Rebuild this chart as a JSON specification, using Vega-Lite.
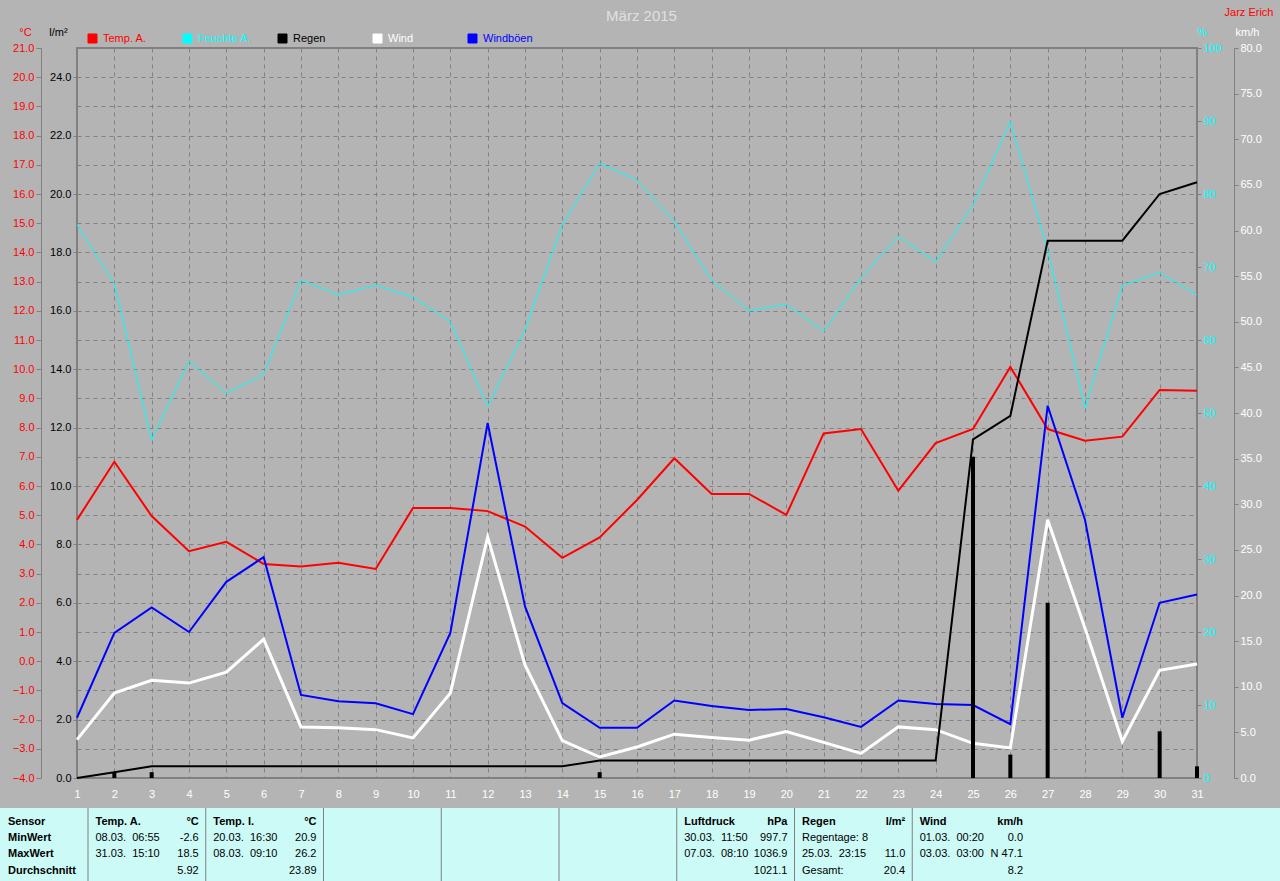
{
  "$schema": "https://vega.github.io/schema/vega-lite/v6.json",
  "autosize": {"type": "none"},
  "padding": {"left": 77, "top": 48, "right": 83, "bottom": 103},
  "width": 1120,
  "height": 730,
  "background": "#b4b4b4",
  "view": {"stroke": "#808080", "strokeWidth": 2},
  "config": {
    "font": "Liberation Sans",
    "axis": {"labelFont": "Liberation Sans", "labelFontSize": 11, "titleFont": "Liberation Sans", "titleFontSize": 11, "titleFontWeight": "normal", "titleAngle": 0, "titleBaseline": "middle", "titleAlign": "center", "tickColor": "#808080", "domainColor": "#808080", "gridColor": "#808080", "gridDash": [4, 4], "gridOpacity": 1, "labelFlush": false, "labelOverlap": false},
    "legend": {"labelFont": "Liberation Sans", "labelFontSize": 11},
    "text": {"font": "Liberation Sans", "fontSize": 11}
  },
  "datasets": {
    "days": [
      {"d":1,"t":4.84,"h":75.8,"w":4.2,"g":6.6,"rc":0,"r":0},
      {"d":2,"t":6.83,"h":67.7,"w":9.3,"g":15.9,"rc":0.2,"r":0.2},
      {"d":3,"t":4.97,"h":46.3,"w":10.7,"g":18.7,"rc":0.4,"r":0.2},
      {"d":4,"t":3.77,"h":57.1,"w":10.4,"g":16.0,"rc":0.4,"r":0},
      {"d":5,"t":4.09,"h":52.7,"w":11.6,"g":21.5,"rc":0.4,"r":0},
      {"d":6,"t":3.33,"h":55.3,"w":15.2,"g":24.2,"rc":0.4,"r":0},
      {"d":7,"t":3.24,"h":68.2,"w":5.6,"g":9.1,"rc":0.4,"r":0},
      {"d":8,"t":3.37,"h":66.2,"w":5.5,"g":8.4,"rc":0.4,"r":0},
      {"d":9,"t":3.16,"h":67.5,"w":5.3,"g":8.2,"rc":0.4,"r":0},
      {"d":10,"t":5.25,"h":65.9,"w":4.4,"g":7.0,"rc":0.4,"r":0},
      {"d":11,"t":5.25,"h":62.5,"w":9.3,"g":15.9,"rc":0.4,"r":0},
      {"d":12,"t":5.14,"h":50.9,"w":26.4,"g":38.9,"rc":0.4,"r":0},
      {"d":13,"t":4.61,"h":61.4,"w":12.4,"g":18.8,"rc":0.4,"r":0},
      {"d":14,"t":3.54,"h":75.8,"w":4.1,"g":8.2,"rc":0.4,"r":0},
      {"d":15,"t":4.24,"h":84.2,"w":2.3,"g":5.5,"rc":0.6,"r":0.2},
      {"d":16,"t":5.52,"h":81.9,"w":3.4,"g":5.5,"rc":0.6,"r":0},
      {"d":17,"t":6.95,"h":76.2,"w":4.8,"g":8.5,"rc":0.6,"r":0},
      {"d":18,"t":5.73,"h":68.2,"w":4.45,"g":7.9,"rc":0.6,"r":0},
      {"d":19,"t":5.73,"h":64.0,"w":4.15,"g":7.45,"rc":0.6,"r":0},
      {"d":20,"t":5.01,"h":64.9,"w":5.1,"g":7.56,"rc":0.6,"r":0},
      {"d":21,"t":7.8,"h":61.2,"w":3.9,"g":6.65,"rc":0.6,"r":0},
      {"d":22,"t":7.95,"h":68.5,"w":2.7,"g":5.6,"rc":0.6,"r":0},
      {"d":23,"t":5.84,"h":74.2,"w":5.6,"g":8.5,"rc":0.6,"r":0},
      {"d":24,"t":7.47,"h":70.7,"w":5.3,"g":8.1,"rc":0.6,"r":0},
      {"d":25,"t":7.95,"h":78.5,"w":3.8,"g":8.0,"rc":11.6,"r":11.0},
      {"d":26,"t":10.08,"h":89.9,"w":3.3,"g":5.9,"rc":12.4,"r":0.8},
      {"d":27,"t":7.95,"h":72.3,"w":28.3,"g":40.8,"rc":18.4,"r":6.0},
      {"d":28,"t":7.55,"h":50.7,"w":16.4,"g":28.3,"rc":18.4,"r":0},
      {"d":29,"t":7.69,"h":67.5,"w":4.0,"g":6.6,"rc":18.4,"r":0},
      {"d":30,"t":9.29,"h":69.2,"w":11.8,"g":19.2,"rc":20.0,"r":1.6},
      {"d":31,"t":9.26,"h":66.2,"w":12.5,"g":20.1,"rc":20.4,"r":0.4}
    ],
    "cols": [{"c":1},{"c":2},{"c":3},{"c":4},{"c":5},{"c":6},{"c":7},{"c":8}],
    "cells": [
      {"c":0,"r":0,"s":"L","t":"Sensor"},
      {"c":0,"r":1,"s":"L","t":"MinWert"},
      {"c":0,"r":2,"s":"L","t":"MaxWert"},
      {"c":0,"r":3,"s":"L","t":"Durchschnitt"},
      {"c":1,"r":0,"s":"L","t":"Temp. A."},
      {"c":1,"r":0,"s":"R","t":"°C"},
      {"c":1,"r":1,"s":"L","t":"08.03.\u00a0 06:55"},
      {"c":1,"r":1,"s":"R","t":"-2.6"},
      {"c":1,"r":2,"s":"L","t":"31.03.\u00a0 15:10"},
      {"c":1,"r":2,"s":"R","t":"18.5"},
      {"c":1,"r":3,"s":"R","t":"5.92"},
      {"c":2,"r":0,"s":"L","t":"Temp. I."},
      {"c":2,"r":0,"s":"R","t":"°C"},
      {"c":2,"r":1,"s":"L","t":"20.03.\u00a0 16:30"},
      {"c":2,"r":1,"s":"R","t":"20.9"},
      {"c":2,"r":2,"s":"L","t":"08.03.\u00a0 09:10"},
      {"c":2,"r":2,"s":"R","t":"26.2"},
      {"c":2,"r":3,"s":"R","t":"23.89"},
      {"c":6,"r":0,"s":"L","t":"Luftdruck"},
      {"c":6,"r":0,"s":"R","t":"hPa"},
      {"c":6,"r":1,"s":"L","t":"30.03.\u00a0 11:50"},
      {"c":6,"r":1,"s":"R","t":"997.7"},
      {"c":6,"r":2,"s":"L","t":"07.03.\u00a0 08:10"},
      {"c":6,"r":2,"s":"R","t":"1036.9"},
      {"c":6,"r":3,"s":"R","t":"1021.1"},
      {"c":7,"r":0,"s":"L","t":"Regen"},
      {"c":7,"r":0,"s":"R","t":"l/m²"},
      {"c":7,"r":1,"s":"L","t":"Regentage: 8"},
      {"c":7,"r":2,"s":"L","t":"25.03.\u00a0 23:15"},
      {"c":7,"r":2,"s":"R","t":"11.0"},
      {"c":7,"r":3,"s":"L","t":"Gesamt:"},
      {"c":7,"r":3,"s":"R","t":"20.4"},
      {"c":8,"r":0,"s":"L","t":"Wind"},
      {"c":8,"r":0,"s":"R","t":"km/h"},
      {"c":8,"r":1,"s":"L","t":"01.03.\u00a0 00:20"},
      {"c":8,"r":1,"s":"R","t":"0.0"},
      {"c":8,"r":2,"s":"L","t":"03.03.\u00a0 03:00"},
      {"c":8,"r":2,"s":"R","t":"N 47.1"},
      {"c":8,"r":3,"s":"R","t":"8.2"}
    ]
  },
  "layer": [
    {
      "layer": [
        {
          "data": {"values": [{}]},
          "mark": {"type": "rect", "color": "#ccfaf7"},
          "encoding": {
            "x": {"datum": -1, "type": "quantitative", "scale": {"type": "linear", "domain": [1, 9], "range": [11, 953], "nice": false, "zero": false, "padding": 0}, "axis": {"orient": "top", "title": "März 2015", "titleX": 564, "titleY": -33, "titleColor": "#e0e0e0", "titleFontSize": 15, "labels": false, "ticks": false, "domain": false, "grid": false}},
            "x2": {"datum": 12},
            "y": {"datum": -0.9, "type": "quantitative", "scale": {"type": "linear", "domain": [0, 3], "range": [774.4, 822.5], "nice": false, "zero": false, "padding": 0}, "axis": {"orient": "left", "title": "Jarz Erich", "titleX": 1196, "titleY": -36, "titleAlign": "right", "titleColor": "#ff0000", "labels": false, "ticks": false, "domain": false, "grid": false}},
            "y2": {"datum": 5}
          }
        },
        {
          "data": {"name": "cols"},
          "mark": {"type": "rule", "color": "#808080", "strokeWidth": 1},
          "encoding": {
            "x": {"field": "c", "type": "quantitative"},
            "y": {"datum": -0.9, "type": "quantitative"},
            "y2": {"datum": 5}
          }
        },
        {
          "data": {"name": "cells"},
          "transform": [{"filter": "datum.c == 0"}],
          "mark": {"type": "text", "align": "left", "baseline": "middle", "dx": 37.75, "fontWeight": "bold", "color": "#000000"},
          "encoding": {
            "x": {"field": "c", "type": "quantitative"},
            "y": {"field": "r", "type": "quantitative"},
            "text": {"field": "t"}
          }
        },
        {
          "data": {"name": "cells"},
          "transform": [{"filter": "datum.c > 0 && datum.r == 0 && datum.s == 'L'"}],
          "mark": {"type": "text", "align": "left", "baseline": "middle", "dx": 7.5, "fontWeight": "bold", "color": "#000000"},
          "encoding": {
            "x": {"field": "c", "type": "quantitative"},
            "y": {"field": "r", "type": "quantitative"},
            "text": {"field": "t"}
          }
        },
        {
          "data": {"name": "cells"},
          "transform": [{"filter": "datum.c > 0 && datum.r == 0 && datum.s == 'R'"}],
          "mark": {"type": "text", "align": "right", "baseline": "middle", "dx": 110.75, "fontWeight": "bold", "color": "#000000"},
          "encoding": {
            "x": {"field": "c", "type": "quantitative"},
            "y": {"field": "r", "type": "quantitative"},
            "text": {"field": "t"}
          }
        },
        {
          "data": {"name": "cells"},
          "transform": [{"filter": "datum.c > 0 && datum.r > 0 && datum.s == 'L'"}],
          "mark": {"type": "text", "align": "left", "baseline": "middle", "dx": 7.5, "color": "#000000"},
          "encoding": {
            "x": {"field": "c", "type": "quantitative"},
            "y": {"field": "r", "type": "quantitative"},
            "text": {"field": "t"}
          }
        },
        {
          "data": {"name": "cells"},
          "transform": [{"filter": "datum.c > 0 && datum.r > 0 && datum.s == 'R'"}],
          "mark": {"type": "text", "align": "right", "baseline": "middle", "dx": 110.75, "color": "#000000"},
          "encoding": {
            "x": {"field": "c", "type": "quantitative"},
            "y": {"field": "r", "type": "quantitative"},
            "text": {"field": "t"}
          }
        }
      ]
    },
    {
      "data": {"name": "days"},
      "encoding": {
        "x": {"field": "d", "type": "quantitative", "scale": {"domain": [1, 31], "nice": false, "zero": false, "padding": 0},
          "axis": {"orient": "bottom", "values": [1,2,3,4,5,6,7,8,9,10,11,12,13,14,15,16,17,18,19,20,21,22,23,24,25,26,27,28,29,30,31], "format": "d", "labelColor": "#ffffff", "ticks": false, "tickSize": 0, "labelPadding": 10, "domain": false, "grid": true, "title": null}}
      },
      "layer": [
        {
          "mark": {"type": "line", "strokeWidth": 1},
          "encoding": {
            "y": {"field": "h", "type": "quantitative", "scale": {"domain": [0, 100], "nice": false, "zero": false},
              "axis": {"orient": "right", "offset": 0, "values": [0,10,20,30,40,50,60,70,80,90,100], "format": "d", "labelColor": "#00ffff", "tickSize": 4, "labelPadding": 2, "domain": false, "grid": false, "title": "%", "titleColor": "#00ffff", "titleX": 5, "titleY": -16}},
            "color": {"datum": "Feuchte A.",
              "scale": {"domain": ["Temp. A.", "Feuchte A.", "Regen", "Wind", "Windböen"], "range": ["#ff0000", "#00ffff", "#000000", "#ffffff", "#0000ff"]},
              "legend": {"orient": "none", "legendX": 10, "legendY": -15, "direction": "horizontal", "columns": 5, "title": null, "gridAlign": "all", "columnPadding": 24, "rowPadding": 0, "symbolType": "square", "symbolSize": 81, "labelOffset": 5, "labelFontSize": 11,
                "encode": {
                  "symbols": {"update": {"fill": {"scale": "color", "field": "value"}, "stroke": {"value": "#ffffff"}, "strokeWidth": {"value": 1}, "shape": {"value": "square"}, "size": {"value": 81}, "opacity": {"value": 1}, "fillOpacity": {"value": 1}}},
                  "labels": {"update": {"fill": {"scale": "color", "field": "value"}}}
                }}}
          }
        },
        {
          "mark": {"type": "line", "strokeWidth": 2},
          "encoding": {
            "y": {"field": "t", "type": "quantitative", "scale": {"domain": [-4, 21], "nice": false, "zero": false},
              "axis": {"orient": "left", "offset": 36, "values": [-4,-3,-2,-1,0,1,2,3,4,5,6,7,8,9,10,11,12,13,14,15,16,17,18,19,20,21], "format": ".1f", "labelColor": "#ff0000", "tickSize": 5, "labelPadding": 2, "domain": true, "grid": true, "title": "°C", "titleColor": "#ff0000", "titleX": -16, "titleY": -16}},
            "color": {"datum": "Temp. A."}
          }
        },
        {
          "layer": [
            {
              "mark": {"type": "line", "strokeWidth": 2},
              "encoding": {
                "y": {"field": "g", "type": "quantitative", "scale": {"domain": [0, 80], "nice": false, "zero": false},
                  "axis": {"orient": "right", "offset": 37, "values": [0,5,10,15,20,25,30,35,40,45,50,55,60,65,70,75,80], "format": ".1f", "labelColor": "#ffffff", "tickSize": 4, "labelPadding": 2, "domain": true, "grid": false, "title": "km/h", "titleColor": "#ffffff", "titleX": 13, "titleY": -16}},
                "color": {"datum": "Windböen"}
              }
            },
            {
              "mark": {"type": "line", "strokeWidth": 3},
              "encoding": {
                "y": {"field": "w", "type": "quantitative", "scale": {"domain": [0, 80], "nice": false, "zero": false},
                  "axis": {"orient": "right", "offset": 37, "values": [0,5,10,15,20,25,30,35,40,45,50,55,60,65,70,75,80], "format": ".1f", "labelColor": "#ffffff", "tickSize": 4, "labelPadding": 2, "domain": true, "grid": false, "title": "km/h", "titleColor": "#ffffff", "titleX": 13, "titleY": -16}},
                "color": {"datum": "Wind"}
              }
            }
          ]
        },
        {
          "layer": [
            {
              "mark": {"type": "line", "strokeWidth": 2},
              "encoding": {
                "y": {"field": "rc", "type": "quantitative", "scale": {"domain": [0, 25], "nice": false, "zero": false},
                  "axis": {"orient": "left", "offset": 0, "values": [0,2,4,6,8,10,12,14,16,18,20,22,24], "format": ".1f", "labelColor": "#000000", "tickSize": 4, "labelPadding": 2, "domain": false, "grid": false, "title": "l/m²", "titleColor": "#000000", "titleX": -19, "titleY": -16}},
                "color": {"datum": "Regen"}
              }
            },
            {
              "transform": [{"filter": "datum.r > 0"}],
              "mark": {"type": "bar", "color": "#000000", "size": 4},
              "encoding": {
                "y": {"field": "r", "type": "quantitative", "scale": {"domain": [0, 25], "nice": false, "zero": false},
                  "axis": {"orient": "left", "offset": 0, "values": [0,2,4,6,8,10,12,14,16,18,20,22,24], "format": ".1f", "labelColor": "#000000", "tickSize": 4, "labelPadding": 2, "domain": false, "grid": false, "title": "l/m²", "titleColor": "#000000", "titleX": -19, "titleY": -16}}
              }
            }
          ]
        }
      ],
      "resolve": {"scale": {"y": "independent"}}
    }
  ],
  "resolve": {"scale": {"x": "independent", "y": "independent"}}
}
